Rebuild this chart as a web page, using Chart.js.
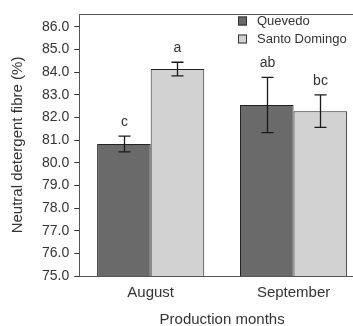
<!DOCTYPE html>
<html>
<head>
<meta charset="utf-8">
<script src="https://cdn.jsdelivr.net/npm/chart.js@4/dist/chart.umd.min.js"></script>
<style>
    html, body { margin: 0; padding: 0; background: #ffffff; overflow: hidden; }
    #wrap { width: 365px; height: 326px; position: relative; }
</style>
</head>
<body>
<div id="wrap"><canvas id="chart"></canvas></div>
<script>
// Data
var months = ["August", "September"];
var quevedo = [80.83, 82.55];
var quevedo_err = [0.35, 1.22];
var quevedo_letters = ["c", "ab"];
var santo_domingo = [84.14, 82.28];
var santo_domingo_err = [0.3, 0.72];
var santo_domingo_letters = ["a", "bc"];
var y_ticks = [75, 76, 77, 78, 79, 80, 81, 82, 83, 84, 85, 86];

var font_family = "'Liberation Sans', Arial, sans-serif";
var text_color = "#333333";

Chart.defaults.font.family = font_family;
Chart.defaults.color = text_color;

var errors = [quevedo_err, santo_domingo_err];
var letters = [quevedo_letters, santo_domingo_letters];

// Draws the frame line on top, the error bars, the significance letters and the legend
var extras_plugin = {
    id: "extras",
    afterDatasetsDraw: function (chart) {
        var ctx = chart.ctx;
        var area = chart.chartArea;
        var y_scale = chart.scales.y;

        ctx.save();

        ctx.strokeStyle = "#555555";
        ctx.lineWidth = 1;
        ctx.beginPath();
        ctx.moveTo(area.left, area.top + 0.5);
        ctx.lineTo(area.right, area.top + 0.5);
        ctx.stroke();

        chart.data.datasets.forEach(function (dataset, ds_index) {
            var meta = chart.getDatasetMeta(ds_index);

            meta.data.forEach(function (bar, i) {
                var value = dataset.data[i];
                var err = errors[ds_index][i];
                var x = Math.round(bar.x) + 0.5;
                var top = y_scale.getPixelForValue(value + err);
                var bottom = y_scale.getPixelForValue(value - err);

                ctx.strokeStyle = "#1a1a1a";
                ctx.lineWidth = 1.3;
                ctx.beginPath();
                ctx.moveTo(x, top);
                ctx.lineTo(x, bottom);
                ctx.moveTo(x - 6, top);
                ctx.lineTo(x + 6, top);
                ctx.moveTo(x - 6, bottom);
                ctx.lineTo(x + 6, bottom);
                ctx.stroke();

                ctx.fillStyle = text_color;
                ctx.font = "14px " + font_family;
                ctx.textAlign = "center";
                ctx.textBaseline = "alphabetic";
                ctx.fillText(letters[ds_index][i], x, top - 10);
            });
        });

        // Legend
        var legend_x = 238;
        var legend_y = [21, 39];

        chart.data.datasets.forEach(function (dataset, ds_index) {
            var cy = legend_y[ds_index];

            ctx.fillStyle = dataset.backgroundColor;
            ctx.fillRect(legend_x, cy - 4.5, 9, 9);
            ctx.strokeStyle = "#333333";
            ctx.lineWidth = 1;
            ctx.strokeRect(legend_x + 0.5, cy - 4.5 + 0.5, 8, 8);

            ctx.fillStyle = text_color;
            ctx.font = "13px " + font_family;
            ctx.textAlign = "left";
            ctx.textBaseline = "middle";
            ctx.fillText(dataset.label, legend_x + 19, cy);
        });

        ctx.restore();
    }
};

var config = {
    "type": "bar",
    "data": {
        "labels": months,
        "datasets": [
            {
                "label": "Quevedo",
                "data": quevedo,
                "backgroundColor": "#6a6a6a",
                "borderColor": "#222222",
                "borderWidth": 1,
                "borderSkipped": false,
                "barPercentage": 1,
                "categoryPercentage": 0.75
            },
            {
                "label": "Santo Domingo",
                "data": santo_domingo,
                "backgroundColor": "#d2d2d2",
                "borderColor": "#222222",
                "borderWidth": 1,
                "borderSkipped": false,
                "barPercentage": 1,
                "categoryPercentage": 0.75
            }
        ]
    },
    "options": {
        "responsive": false,
        "animation": false,
        "layout": {
            "padding": {"top": 14, "right": 0, "left": 9, "bottom": 0}
        },
        "scales": {
            "x": {
                "grid": {"display": false, "drawTicks": false},
                "border": {"display": true, "color": "#555555", "width": 1},
                "ticks": {
                    "color": text_color,
                    "padding": 8,
                    "font": {"size": 15}
                },
                "title": {
                    "display": true,
                    "text": "Production months",
                    "color": text_color,
                    "font": {"size": 15, "lineHeight": 0.8},
                    "padding": {"top": 4, "bottom": 0}
                }
            },
            "y": {
                "min": 75,
                "max": 86.57,
                "afterBuildTicks": function (scale) {
                    scale.ticks = y_ticks.map(function (v) { return {"value": v}; });
                },
                "grid": {
                    "display": true,
                    "drawOnChartArea": false,
                    "drawTicks": true,
                    "tickLength": 5,
                    "color": "#333333"
                },
                "border": {"display": true, "color": "#555555", "width": 1},
                "ticks": {
                    "color": text_color,
                    "padding": 5,
                    "font": {"size": 14},
                    "callback": function (value) { return Number(value).toFixed(1); }
                },
                "title": {
                    "display": true,
                    "text": "Neutral detergent fibre (%)",
                    "color": text_color,
                    "font": {"size": 15},
                    "padding": {"top": 0, "bottom": 10}
                }
            }
        },
        "plugins": {
            "legend": {"display": false},
            "tooltip": {"enabled": false}
        }
    },
    "plugins": [extras_plugin]
};

var canvas = document.getElementById("chart");
canvas.width = 365;
canvas.height = 326;

new Chart(canvas.getContext("2d"), config);
</script>
</body>
</html>
